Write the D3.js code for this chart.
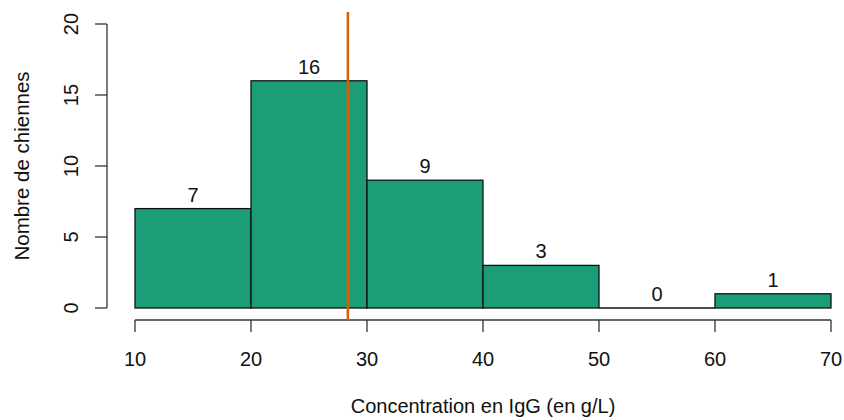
<!DOCTYPE html>
<html><head><meta charset="utf-8">
<script src="https://cdn.jsdelivr.net/npm/d3@7"></script>
<style>body{margin:0;background:#fff}svg{display:block}text{font-family:"Liberation Sans",Arial,sans-serif}</style>
</head><body>
<script>
const binStarts = [10,20,30,40,50,60];
const binWidth = 10;
const counts = [7,16,9,3,0,1];
const xTicks = [10,20,30,40,50,60,70];
const yTicks = [0,5,10,15,20];
const meanValue = 28.35;
const xTitle = "Concentration en IgG (en g/L)";
const yTitle = "Nombre de chiennes";

const W=844,H=420,FS=20;
const svg=d3.select("body").append("svg").attr("width",W).attr("height",H);
const x=d3.scaleLinear().domain([10,70]).range([135,831]);
const y=d3.scaleLinear().domain([0,20]).range([308,24]);
const axisCol="#333";
const bins=counts.map((c,i)=>({c, x0:binStarts[i], x1:binStarts[i]+binWidth}));

// bars (non-empty bins)
svg.selectAll("rect.bar").data(bins.filter(b=>b.c>0)).enter().append("rect")
 .attr("x",b=>x(b.x0)).attr("width",b=>x(b.x1)-x(b.x0))
 .attr("y",b=>y(b.c)).attr("height",b=>y(0)-y(b.c))
 .attr("fill","#1B9E77").attr("stroke","#111").attr("stroke-width",1.3);
// empty bins drawn as a flat outline
svg.selectAll("line.empty").data(bins.filter(b=>b.c===0)).enter().append("line")
 .attr("x1",b=>x(b.x0)).attr("x2",b=>x(b.x1)).attr("y1",y(0)).attr("y2",y(0))
 .attr("stroke","#111").attr("stroke-width",1.3);
// count labels
svg.selectAll("text.cnt").data(bins).enter().append("text")
 .attr("x",b=>x((b.x0+b.x1)/2)).attr("y",b=>y(b.c)-7)
 .attr("text-anchor","middle").attr("font-size",FS).attr("fill","#111").text(b=>b.c);

// x axis
const xa=svg.append("g").attr("transform","translate(0,320)");
xa.append("line").attr("x1",x(10)).attr("x2",x(70)).attr("stroke",axisCol).attr("stroke-width",1.3);
xa.selectAll("line.t").data(xTicks).enter().append("line")
 .attr("x1",d=>x(d)).attr("x2",d=>x(d)).attr("y1",0).attr("y2",12).attr("stroke",axisCol).attr("stroke-width",1.3);
xa.selectAll("text").data(xTicks).enter().append("text")
 .attr("x",d=>x(d)).attr("y",46).attr("text-anchor","middle").attr("font-size",FS).attr("fill","#111").text(d=>d);

// y axis
const ya=svg.append("g").attr("transform","translate(107,0)");
ya.append("line").attr("y1",y(0)).attr("y2",y(20)).attr("stroke",axisCol).attr("stroke-width",1.3);
ya.selectAll("line.t").data(yTicks).enter().append("line")
 .attr("y1",d=>y(d)).attr("y2",d=>y(d)).attr("x1",0).attr("x2",-12).attr("stroke",axisCol).attr("stroke-width",1.3);
ya.selectAll("text").data(yTicks).enter().append("text")
 .attr("transform",d=>`translate(-36,${y(d)}) rotate(-90)`).attr("text-anchor","middle").attr("dy","0.35em")
 .attr("font-size",FS).attr("fill","#111").text(d=>d);

// titles
svg.append("text").attr("x",x(40)).attr("y",413).attr("text-anchor","middle").attr("font-size",FS).attr("fill","#111").text(xTitle);
svg.append("text").attr("transform",`translate(22,${y(10)}) rotate(-90)`).attr("text-anchor","middle").attr("dy","0.35em")
 .attr("font-size",FS+0.5).attr("fill","#111").text(yTitle);

// mean line
svg.append("line").attr("x1",x(meanValue)).attr("x2",x(meanValue)).attr("y1",12).attr("y2",320)
 .attr("stroke","#D95F02").attr("stroke-width",2.5);
</script>
</body></html>
